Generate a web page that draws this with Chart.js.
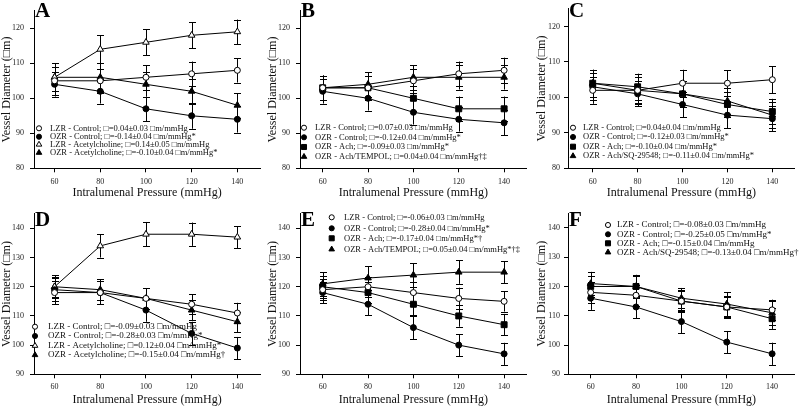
<!DOCTYPE html>
<html><head><meta charset="utf-8">
<script src="https://cdn.jsdelivr.net/npm/chart.js@4/dist/chart.umd.min.js"></script>
<style>
html,body{margin:0;padding:0;background:#fff;width:800px;height:406px;overflow:hidden;position:relative}
canvas{position:absolute}
</style></head><body>
<canvas id="cA" width="265" height="203" style="left:0;top:0"></canvas>
<canvas id="cB" width="267" height="203" style="left:265px;top:0"></canvas>
<canvas id="cC" width="270" height="203" style="left:530px;top:0"></canvas>
<canvas id="cD" width="265" height="203" style="left:0;top:203px"></canvas>
<canvas id="cE" width="267" height="203" style="left:265px;top:203px"></canvas>
<canvas id="cF" width="270" height="203" style="left:530px;top:203px"></canvas>
<script>
// ---------- shared axes ----------
const pressure = [60, 80, 100, 120, 140];
const xTickValues = [60, 80, 100, 120, 140];
const yTicksTop = [80, 90, 100, 110, 120];
const yTicksBottom = [90, 100, 110, 120, 130, 140];
const xTitle = 'Intralumenal Pressure (mmHg)';
const yTitle = 'Vessel Diameter (\u25A1m)';

// ---------- Panel A ----------
const aLabels = [
  'LZR - Control; \u25A1=0.04\u00B10.03 \u25A1m/mmHg',
  'OZR - Control; \u25A1=-0.14\u00B10.04 \u25A1m/mmHg*',
  'LZR - Acetylcholine; \u25A1=0.14\u00B10.05 \u25A1m/mmHg',
  'OZR - Acetylcholine; \u25A1=-0.10\u00B10.04 \u25A1m/mmHg*'];
const aLzrControl = [105, 105, 106, 107, 108];
const aLzrControlErr = [4, 3.5, 3.5, 3.5, 3.5];
const aOzrControl = [104, 102, 97, 95, 94];
const aOzrControlErr = [3.5, 3.5, 3.5, 3.7, 3.8];
const aLzrAch = [106, 114, 116, 118, 119];
const aLzrAchErr = [4, 4, 3.7, 3.7, 3.5];
const aOzrAch = [106, 106, 104, 102, 98];
const aOzrAchErr = [4, 4, 3.5, 3.5, 3.5];

// ---------- Panel B ----------
const bLabels = [
  'LZR - Control; \u25A1=0.07\u00B10.03 \u25A1m/mmHg',
  'OZR - Control; \u25A1=-0.12\u00B10.04 \u25A1m/mmHg*',
  'OZR - Ach; \u25A1=-0.09\u00B10.03 \u25A1m/mmHg*',
  'OZR - Ach/TEMPOL; \u25A1=0.04\u00B10.04 \u25A1m/mmHg\u2020\u2021'];
const bLzrControl = [103, 103, 105, 107, 108];
const bLzrControlErr = [3.5, 3.5, 3.5, 3.5, 3.6];
const bOzrControl = [102, 100, 96, 94, 93];
const bOzrControlErr = [3.5, 3.5, 3.5, 3.5, 3.6];
const bOzrAch = [103, 103, 100, 97, 97];
const bOzrAchErr = [3.5, 3.5, 3.5, 3.5, 3.5];
const bOzrAchTempol = [103, 104, 106, 106, 106];
const bOzrAchTempolErr = [3.5, 3.5, 3.5, 3.5, 3.5];

// ---------- Panel C ----------
const cLabels = [
  'LZR - Control; \u25A1=0.04\u00B10.04 \u25A1m/mmHg',
  'OZR - Control; \u25A1=-0.12\u00B10.03 \u25A1m/mmHg*',
  'OZR - Ach; \u25A1=-0.10\u00B10.04 \u25A1m/mmHg*',
  'OZR - Ach/SQ-29548; \u25A1=-0.11\u00B10.04 \u25A1m/mmHg*'];
const cLzrControl = [102, 102, 104, 104, 105];
const cLzrControlErr = [3.8, 3.8, 3.8, 3.6, 3.8];
const cOzrControl = [103, 101, 98, 95, 94];
const cOzrControlErr = [3.8, 3.5, 3.6, 3.7, 3.5];
const cOzrAch = [104, 103, 101, 98, 96];
const cOzrAchErr = [3.8, 3.7, 3.6, 3.6, 3.6];
const cOzrAchSq = [104, 102, 101, 99, 95];
const cOzrAchSqErr = [3.8, 3.7, 3.6, 3.6, 3.6];

// ---------- Panel D ----------
const dLabels = [
  'LZR - Control; \u25A1=-0.09\u00B10.03 \u25A1m/mmHg',
  'OZR - Control; \u25A1=-0.28\u00B10.03 \u25A1m/mmHg*',
  'LZR - Acetylcholine; \u25A1=0.12\u00B10.04 \u25A1m/mmHg*',
  'OZR - Acetylcholine; \u25A1=-0.15\u00B10.04 \u25A1m/mmHg\u2020'];
const dLzrControl = [118, 118, 116, 114, 111];
const dLzrControlErr = [4, 4, 3.5, 3.5, 3.5];
const dOzrControl = [119, 118, 112, 104, 99];
const dOzrControlErr = [4, 4, 4, 4, 3.8];
const dLzrAch = [120, 134, 138, 138, 137];
const dLzrAchErr = [4, 4, 4.2, 4, 3.8];
const dOzrAch = [120, 119, 116, 112, 108];
const dOzrAchErr = [3.5, 3.5, 3.5, 3.5, 3.5];

// ---------- Panel E ----------
const eLabels = [
  'LZR - Control; \u25A1=-0.06\u00B10.03 \u25A1m/mmHg',
  'OZR - Control; \u25A1=-0.28\u00B10.04 \u25A1m/mmHg*',
  'OZR - Ach; \u25A1=-0.17\u00B10.04 \u25A1m/mmHg*\u2020',
  'OZR - Ach/TEMPOL; \u25A1=0.05\u00B10.04 \u25A1m/mmHg*\u2020\u2021'];
const eLzrControl = [119, 120, 118, 116, 115];
const eLzrControlErr = [3.5, 3.5, 3.5, 3.7, 3.5];
const eOzrControl = [118, 114, 106, 100, 97];
const eOzrControlErr = [3.7, 3.7, 4, 3.8, 3.8];
const eOzrAch = [120, 118, 114, 110, 107];
const eOzrAchErr = [3.7, 3.7, 3.8, 3.7, 3.7];
const eOzrAchTempol = [121, 123, 124, 125, 125];
const eOzrAchTempolErr = [4, 4, 4, 4, 3.7];

// ---------- Panel F ----------
const fLabels = [
  'LZR - Control; \u25A1=-0.08\u00B10.03 \u25A1m/mmHg',
  'OZR - Control; \u25A1=-0.25\u00B10.05 \u25A1m/mmHg*',
  'OZR - Ach; \u25A1=-0.15\u00B10.04 \u25A1m/mmHg',
  'OZR - Ach/SQ-29548; \u25A1=-0.13\u00B10.04 \u25A1m/mmHg\u2020'];
const fLzrControl = [118, 117, 115, 113, 112];
const fLzrControlErr = [3.5, 3.5, 3.5, 3.5, 3.5];
const fOzrControl = [116, 113, 108, 101, 97];
const fOzrControlErr = [4, 3.8, 4, 3.8, 3.8];
const fOzrAch = [120, 120, 115, 113, 109];
const fOzrAchErr = [3.7, 3.7, 3.7, 3.7, 3.5];
const fOzrAchSq = [121, 120, 116, 114, 111];
const fOzrAchSqErr = [4, 4, 3.5, 4, 4];

// ---------- styles ----------
const SERIF = "'Liberation Serif','Times New Roman',serif";
const STY = {
  openCircle:     {pointStyle: 'circle',   pointRadius: 3,   backgroundColor: '#fff'},
  filledCircle:   {pointStyle: 'circle',   pointRadius: 3,   backgroundColor: '#000'},
  openTriangle:   {pointStyle: 'triangle', pointRadius: 3.8, backgroundColor: '#fff'},
  filledTriangle: {pointStyle: 'triangle', pointRadius: 3.8, backgroundColor: '#000'},
  filledSquare:   {pointStyle: 'rect',     pointRadius: 4.2, backgroundColor: '#000'}
};

function ds(label, values, errs, st) {
  const s = STY[st];
  return {
    label: label,
    data: pressure.map((p, i) => ({x: p, y: values[i]})),
    errors: errs,
    styleName: st,
    borderColor: '#000', borderWidth: 1,
    pointStyle: s.pointStyle, pointRadius: s.pointRadius,
    pointBackgroundColor: s.backgroundColor, backgroundColor: s.backgroundColor,
    pointBorderColor: '#000', pointBorderWidth: 1,
    pointHoverRadius: s.pointRadius,
    tension: 0, fill: false
  };
}

const errorBars = {
  id: 'errorBars',
  beforeDatasetsDraw(chart) {
    const {ctx} = chart; const x = chart.scales.x, y = chart.scales.y;
    ctx.save(); ctx.strokeStyle = '#000'; ctx.lineWidth = 1;
    chart.data.datasets.forEach(d => {
      d.data.forEach((p, i) => {
        const e = d.errors[i];
        const px = Math.round(x.getPixelForValue(p.x)) + 0.5;
        const t = y.getPixelForValue(p.y + e), b = y.getPixelForValue(p.y - e);
        ctx.beginPath();
        ctx.moveTo(px, t); ctx.lineTo(px, b);
        ctx.moveTo(px - 3.5, Math.round(t) + 0.5); ctx.lineTo(px + 3.5, Math.round(t) + 0.5);
        ctx.moveTo(px - 3.5, Math.round(b) + 0.5); ctx.lineTo(px + 3.5, Math.round(b) + 0.5);
        ctx.stroke();
      });
    });
    ctx.restore();
  }
};

const panelExtras = {
  id: 'panelExtras',
  afterDraw(chart, args, o) {
    const {ctx} = chart;
    ctx.save();
    ctx.fillStyle = '#000';
    ctx.font = 'bold 21px ' + SERIF;
    ctx.textBaseline = 'alphabetic'; ctx.textAlign = 'left';
    ctx.fillText(o.letter, chart.chartArea.left + o.letterDx, o.letterY);
    ctx.font = o.legendFont + 'px ' + SERIF;
    ctx.textBaseline = 'middle';
    chart.data.datasets.forEach((d, i) => {
      const s = STY[d.styleName];
      const yy = o.rows[i];
      ctx.fillStyle = s.backgroundColor; ctx.strokeStyle = '#000'; ctx.lineWidth = 1;
      Chart.helpers.drawPoint(ctx, {pointStyle: s.pointStyle, radius: s.pointRadius * 0.85, borderWidth: 1}, o.markerX, yy);
      ctx.fillStyle = '#111';
      ctx.fillText(d.label, o.textX, yy);
    });
    ctx.restore();
  }
};

function makeChart(id, cfg) {
  const top = cfg.row === 0;
  const yTicks = top ? yTicksTop : yTicksBottom;
  return new Chart(document.getElementById(id), {
    type: 'line',
    data: {datasets: cfg.datasets},
    plugins: [errorBars, panelExtras],
    options: {
      responsive: false, animation: false, events: [],
      layout: {padding: {left: 0, right: cfg.padRight, top: top ? 6.7 : 10.3, bottom: 0}},
      plugins: {
        legend: {display: false}, tooltip: {enabled: false},
        panelExtras: {letter: cfg.letter, letterDx: 1, letterY: top ? 17 : 23,
          markerX: cfg.markerX, textX: cfg.textX, rows: cfg.rows, legendFont: cfg.legendFont}
      },
      scales: {
        x: {
          type: 'linear', min: cfg.xmin, max: 150,
          afterBuildTicks(s) { s.ticks = xTickValues.map(v => ({value: v})); },
          afterFit(s) { s.height = top ? 34.7 : 31.7; },
          grid: {display: true, drawOnChartArea: false, drawTicks: true, tickLength: 4, color: '#000'},
          border: {display: true, color: '#000', width: 1},
          ticks: {color: '#222', padding: top ? 5 : 3.6, maxRotation: 0, font: {family: SERIF, size: 8, lineHeight: 1.2}},
          title: {display: true, text: xTitle, color: '#111', padding: {top: 0, bottom: top ? 3 : 0},
                  font: {family: SERIF, size: 12, lineHeight: top ? 1.2 : 1}}
        },
        y: {
          type: 'linear', min: top ? 80 : 90, max: top ? 125 : 145,
          afterBuildTicks(s) { s.ticks = yTicks.map(v => ({value: v})); },
          afterFit(s) { s.width = cfg.yW; },
          grid: {display: true, drawOnChartArea: false, drawTicks: true, tickLength: 4, color: '#000'},
          border: {display: true, color: '#000', width: 1},
          ticks: {color: '#222', padding: cfg.tickPad, font: {family: SERIF, size: 8, lineHeight: 1.2}},
          title: {display: true, text: yTitle, color: '#111', padding: {top: cfg.yTitlePad, bottom: 0},
                  font: {family: SERIF, size: 12, lineHeight: 1.2}}
        }
      }
    }
  });
}

makeChart('cA', {row: 0, letter: 'A', yW: 34, padRight: 3, xmin: 51, yTitlePad: 0, tickPad: 6,
  markerX: 39, textX: 50, rows: [128.3, 136.7, 144.5, 152.7], legendFont: 8.5,
  datasets: [ds(aLabels[0], aLzrControl, aLzrControlErr, 'openCircle'),
             ds(aLabels[1], aOzrControl, aOzrControlErr, 'filledCircle'),
             ds(aLabels[2], aLzrAch, aLzrAchErr, 'openTriangle'),
             ds(aLabels[3], aOzrAch, aOzrAchErr, 'filledTriangle')]});
makeChart('cB', {row: 0, letter: 'B', yW: 35, padRight: 0, xmin: 50, yTitlePad: 1, tickPad: 6,
  markerX: 39, textX: 50, rows: [127.7, 137.3, 147, 156.7], legendFont: 8.5,
  datasets: [ds(bLabels[0], bLzrControl, bLzrControlErr, 'openCircle'),
             ds(bLabels[1], bOzrControl, bOzrControlErr, 'filledCircle'),
             ds(bLabels[2], bOzrAch, bOzrAchErr, 'filledSquare'),
             ds(bLabels[3], bOzrAchTempol, bOzrAchTempolErr, 'filledTriangle')]});
makeChart('cC', {row: 0, letter: 'C', yW: 38, padRight: 0, xmin: 49, yTitlePad: 5, tickPad: 4,
  markerX: 43, textX: 53, rows: [127.7, 137, 146.7, 156], legendFont: 8.5,
  datasets: [ds(cLabels[0], cLzrControl, cLzrControlErr, 'openCircle'),
             ds(cLabels[1], cOzrControl, cOzrControlErr, 'filledCircle'),
             ds(cLabels[2], cOzrAch, cOzrAchErr, 'filledSquare'),
             ds(cLabels[3], cOzrAchSq, cOzrAchSqErr, 'filledTriangle')]});
makeChart('cD', {row: 1, letter: 'D', yW: 34, padRight: 3, xmin: 51, yTitlePad: 0, tickPad: 6,
  markerX: 35, textX: 48, rows: [123.7, 133, 142.7, 152], legendFont: 9,
  datasets: [ds(dLabels[0], dLzrControl, dLzrControlErr, 'openCircle'),
             ds(dLabels[1], dOzrControl, dOzrControlErr, 'filledCircle'),
             ds(dLabels[2], dLzrAch, dLzrAchErr, 'openTriangle'),
             ds(dLabels[3], dOzrAch, dOzrAchErr, 'filledTriangle')]});
makeChart('cE', {row: 1, letter: 'E', yW: 35, padRight: 0, xmin: 50, yTitlePad: 1, tickPad: 6,
  markerX: 66.7, textX: 79, rows: [14.3, 25.3, 35.3, 46.3], legendFont: 8.5,
  datasets: [ds(eLabels[0], eLzrControl, eLzrControlErr, 'openCircle'),
             ds(eLabels[1], eOzrControl, eOzrControlErr, 'filledCircle'),
             ds(eLabels[2], eOzrAch, eOzrAchErr, 'filledSquare'),
             ds(eLabels[3], eOzrAchTempol, eOzrAchTempolErr, 'filledTriangle')]});
makeChart('cF', {row: 1, letter: 'F', yW: 38, padRight: 0, xmin: 50, yTitlePad: 5, tickPad: 4,
  markerX: 78, textX: 87, rows: [22, 31.3, 40.3, 49.3], legendFont: 9,
  datasets: [ds(fLabels[0], fLzrControl, fLzrControlErr, 'openCircle'),
             ds(fLabels[1], fOzrControl, fOzrControlErr, 'filledCircle'),
             ds(fLabels[2], fOzrAch, fOzrAchErr, 'filledSquare'),
             ds(fLabels[3], fOzrAchSq, fOzrAchSqErr, 'filledTriangle')]});
</script>
</body></html>
